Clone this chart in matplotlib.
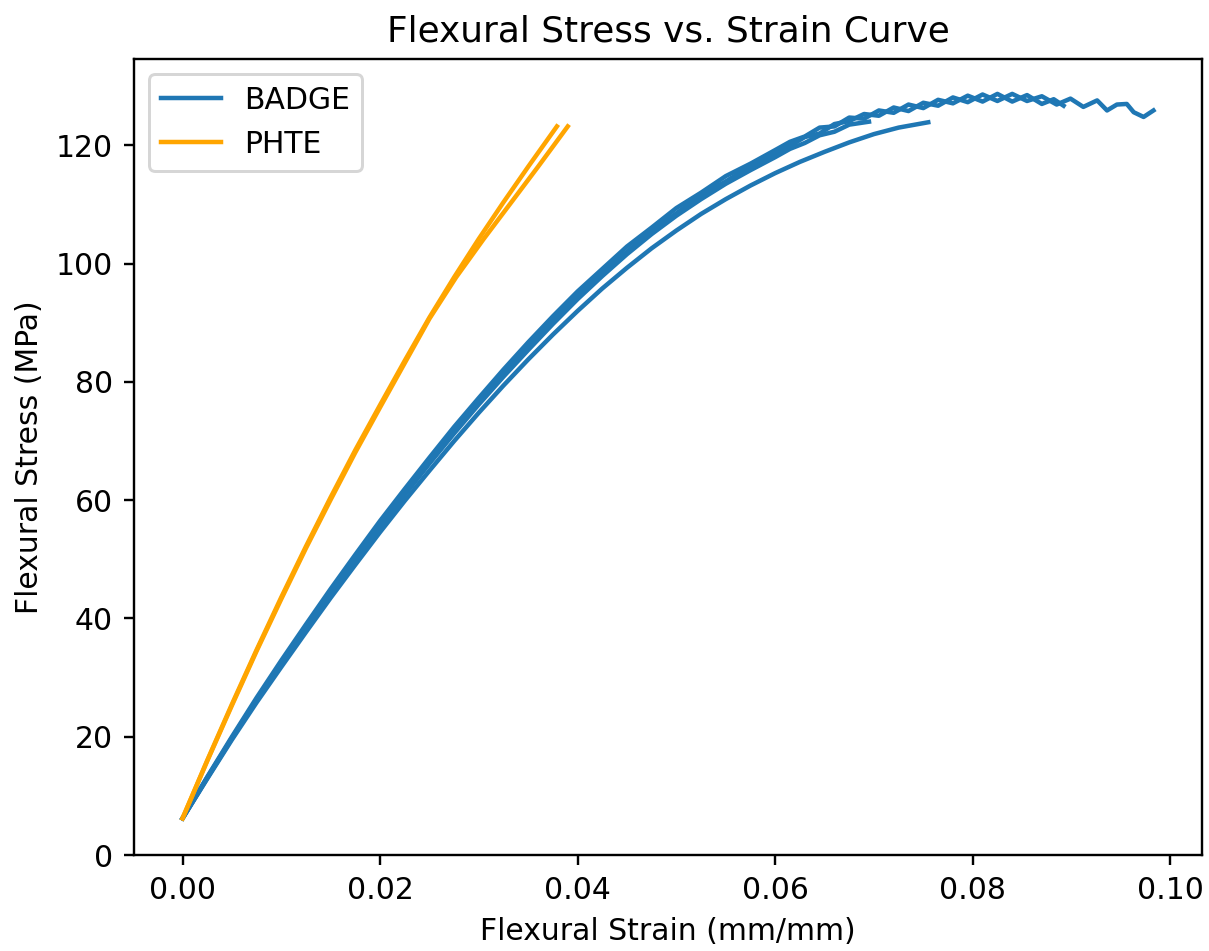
import matplotlib
matplotlib.use("Agg")
import matplotlib.pyplot as plt

# BADGE specimens (strain mm/mm, stress MPa)
badge_1_strain = [0.0000, 0.0025, 0.0050, 0.0075, 0.0100, 0.0125, 0.0150, 0.0175, 0.0200,
                  0.0225, 0.0250, 0.0275, 0.0300, 0.0325, 0.0350, 0.0375, 0.0400, 0.0425,
                  0.0450, 0.0475, 0.0500, 0.0525, 0.0550, 0.0575, 0.0600, 0.0615, 0.0630,
                  0.0645, 0.0660, 0.0675, 0.0690, 0.0705, 0.0720, 0.0735, 0.0750, 0.0765,
                  0.0780, 0.0795, 0.0810, 0.0825, 0.0840, 0.0855, 0.0870, 0.0885, 0.0899,
                  0.0912, 0.0926, 0.0936, 0.0946, 0.0956, 0.0963, 0.0973, 0.0983]
badge_1_stress = [6.2, 13.1, 19.8, 26.3, 32.5, 38.6, 44.5, 50.3, 55.9,
                  61.3, 66.6, 71.7, 76.6, 81.3, 85.9, 90.3, 94.5, 98.5,
                  102.0, 105.6, 108.5, 111.6, 113.9, 116.5, 118.5, 119.9, 121.4,
                  122.0, 123.6, 124.1, 125.3, 125.0, 126.4, 125.8, 127.2, 126.7,
                  128.1, 127.3, 128.6, 127.5, 128.7, 127.5, 128.3, 126.9, 127.9,
                  126.5, 127.6, 125.9, 126.9, 127.0, 125.6, 124.8, 125.9]

badge_2_strain = [0.0000, 0.0025, 0.0050, 0.0075, 0.0100, 0.0125, 0.0150, 0.0175, 0.0200,
                  0.0225, 0.0250, 0.0275, 0.0300, 0.0325, 0.0350, 0.0375, 0.0400, 0.0425,
                  0.0450, 0.0475, 0.0500, 0.0525, 0.0550, 0.0575, 0.0600, 0.0615, 0.0630,
                  0.0645, 0.0660, 0.0675, 0.0690, 0.0705, 0.0720, 0.0735, 0.0750, 0.0765,
                  0.0780, 0.0795, 0.0810, 0.0825, 0.0840, 0.0855, 0.0870, 0.0882, 0.0892]
badge_2_stress = [6.2, 13.2, 20.0, 26.6, 32.9, 39.0, 45.0, 50.8, 56.5,
                  61.9, 67.2, 72.4, 77.3, 82.1, 86.7, 91.1, 95.3, 99.1,
                  102.9, 106.1, 109.4, 112.0, 114.8, 116.9, 119.2, 120.6, 121.5,
                  123.0, 123.2, 124.7, 124.5, 125.9, 125.5, 126.9, 126.3, 127.7,
                  127.1, 128.4, 127.4, 128.7, 127.4, 128.5, 127.0, 127.8, 126.7]

badge_3_strain = [0.0000, 0.0025, 0.0050, 0.0075, 0.0100, 0.0125, 0.0150, 0.0175, 0.0200,
                  0.0225, 0.0250, 0.0275, 0.0300, 0.0325, 0.0350, 0.0375, 0.0400, 0.0425,
                  0.0450, 0.0475, 0.0500, 0.0525, 0.0550, 0.0575, 0.0600, 0.0615, 0.0630,
                  0.0645, 0.0660, 0.0675, 0.0695]
badge_3_stress = [6.2, 13.0, 19.7, 26.2, 32.3, 38.3, 44.2, 49.9, 55.5,
                  60.9, 66.2, 71.3, 76.2, 80.9, 85.4, 89.8, 94.0, 97.9,
                  101.6, 105.0, 108.1, 110.9, 113.5, 115.8, 118.0, 119.4, 120.4,
                  121.7, 122.3, 123.5, 124.0]

badge_4_strain = [0.0000, 0.0025, 0.0050, 0.0075, 0.0100, 0.0125, 0.0150, 0.0175, 0.0200,
                  0.0225, 0.0250, 0.0275, 0.0300, 0.0325, 0.0350, 0.0375, 0.0400, 0.0425,
                  0.0450, 0.0475, 0.0500, 0.0525, 0.0550, 0.0575, 0.0600, 0.0625, 0.0650,
                  0.0675, 0.0700, 0.0725, 0.0755]
badge_4_stress = [6.2, 12.9, 19.5, 25.8, 31.8, 37.7, 43.5, 49.1, 54.6,
                  59.9, 65.0, 70.0, 74.8, 79.4, 83.8, 88.0, 92.0, 95.8,
                  99.3, 102.6, 105.6, 108.4, 110.9, 113.2, 115.3, 117.2, 118.9,
                  120.5, 121.9, 123.0, 123.9]

# PHTE specimens
phte_1_strain = [0.0000, 0.0025, 0.0050, 0.0075, 0.0100, 0.0125, 0.0150, 0.0175, 0.0200,
                 0.0225, 0.0250, 0.0275, 0.0300, 0.0325, 0.0350, 0.0379]
phte_1_stress = [6.2, 16.0, 25.5, 34.7, 43.6, 52.2, 60.5, 68.5, 76.1,
                 83.6, 90.9, 97.7, 104.2, 110.4, 116.4, 123.2]

phte_2_strain = [0.0000, 0.0025, 0.0050, 0.0075, 0.0100, 0.0125, 0.0150, 0.0175, 0.0200,
                 0.0225, 0.0250, 0.0277, 0.0305, 0.0333, 0.0360, 0.0390]
phte_2_stress = [6.2, 15.9, 25.3, 34.5, 43.3, 51.9, 60.1, 68.1, 75.7,
                 83.2, 90.7, 97.7, 104.2, 110.4, 116.4, 123.2]

badge_sets = [(badge_1_strain, badge_1_stress), (badge_2_strain, badge_2_stress),
              (badge_3_strain, badge_3_stress), (badge_4_strain, badge_4_stress)]
phte_sets = [(phte_1_strain, phte_1_stress), (phte_2_strain, phte_2_stress)]

DPI = 215
fig = plt.figure(figsize=(1209 / DPI, 951 / DPI), dpi=DPI)
ax = fig.add_axes([134 / 1209, 96 / 951, 1068 / 1209, 796 / 951])

for i, (sx, sy) in enumerate(badge_sets):
    ax.plot(sx, sy, color="#1f77b4", label="BADGE" if i == 0 else None)
for i, (sx, sy) in enumerate(phte_sets):
    ax.plot(sx, sy, color="orange", label="PHTE" if i == 0 else None)

ax.set_ylim(0, 134.6)
ax.set_title("Flexural Stress vs. Strain Curve")
ax.set_xlabel("Flexural Strain (mm/mm)")
ax.set_ylabel("Flexural Stress (MPa)")
ax.legend(loc="upper left")

fig.savefig("out.png", dpi=DPI)
